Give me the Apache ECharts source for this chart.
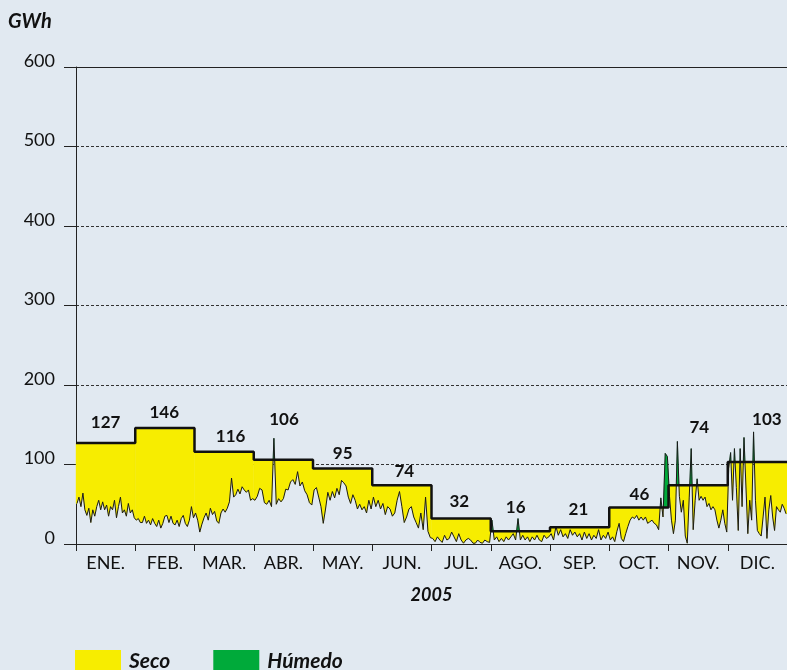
<!DOCTYPE html>
<html>
<head>
<meta charset="utf-8">
<script src="https://cdn.jsdelivr.net/npm/echarts@6/dist/echarts.min.js"></script>
<style>
  html, body { margin: 0; padding: 0; background: #E1E9F1; }
  #chart { width: 787px; height: 670px; }
</style>
</head>
<body>
<div id="chart"></div>
<script>
  // meses y medias mensuales (GWh)
  const months = ['ENE.', 'FEB.', 'MAR.', 'ABR.', 'MAY.', 'JUN.', 'JUL.', 'AGO.', 'SEP.', 'OCT.', 'NOV.', 'DIC.'];
  const monthAvg = [127, 146, 116, 106, 95, 74, 32, 16, 21, 46, 74, 103];

  // valores diarios
  const dayEne = [51, 59, 47, 64, 43, 36, 45, 27, 43, 35, 47, 55, 43, 53, 43, 49, 35, 47, 43, 55, 33, 47, 59, 39, 43, 35, 51, 39, 43, 33];
  const dayFeb = [30, 32, 27, 27, 35, 26, 30, 24, 32, 26, 22, 30, 20, 26, 35, 36, 27, 35, 26, 24, 30, 22, 32, 36, 26, 22, 30, 47, 33];
  const dayMar = [39, 30, 15, 25, 33, 39, 30, 45, 37, 41, 29, 26, 39, 44, 40, 45, 53, 83, 59, 62, 69, 63, 72, 68, 65, 68, 55, 57];
  const dayAbr = [55, 60, 70, 68, 52, 50, 55, 47, 133, 50, 57, 53, 57, 69, 68, 78, 81, 75, 91, 73, 78, 67, 62, 52, 49];
  const dayMay = [68, 71, 59, 47, 26, 44, 65, 55, 66, 58, 70, 62, 80, 77, 73, 59, 51, 62, 55, 44, 50, 43, 47, 39, 55, 44];
  const dayJun = [59, 47, 55, 44, 51, 37, 47, 44, 35, 39, 55, 66, 47, 27, 34, 44, 47, 34, 27, 20, 39, 18, 59, 16, 8];
  const dayJul = [7, 3, 9, 5, 2, 11, 5, 7, 15, 9, 3, 13, 5, 1, 5, 7, 5, 1, 1, 5, 2, 1, 5, 3, 2];
  const dayAgo = [30, 5, 9, 3, 7, 3, 9, 5, 9, 13, 5, 32, 5, 11, 5, 9, 3, 9, 5, 11, 5, 3, 11, 7, 9];
  const daySep = [13, 5, 22, 11, 18, 9, 13, 7, 18, 11, 15, 9, 13, 5, 15, 7, 13, 5, 11, 7, 18, 5, 11, 7, 15];
  const dayOct = [5, 9, 3, 16, 26, 7, 3, 13, 22, 30, 34, 32, 36, 30, 34, 30, 34, 26, 28, 30, 26, 24, 18, 58, 34, 114, 110];
  const dayNov = [60, 30, 13, 30, 129, 60, 40, 55, 10, 1, 59, 120, 18, 55, 82, 55, 60, 55, 59, 47, 51, 43, 47, 43, 30, 20, 30, 43, 26, 15];
  const dayDic = [95, 115, 55, 120, 71, 17, 120, 47, 134, 73, 13, 55, 30, 141, 55, 17, 13, 10, 34, 59, 7, 43, 61, 34, 17, 47, 43, 40, 50, 45, 38];
  const daily = [dayEne, dayFeb, dayMar, dayAbr, dayMay, dayJun, dayJul, dayAgo, daySep, dayOct, dayNov, dayDic];

  // donde va cada rótulo de media (x en meses, y en GWh)
  const labelSpot = [[0.50, 153], [1.49, 166], [2.61, 135], [3.51, 156], [4.50, 114], [5.54, 91],
                     [6.47, 54], [7.42, 46], [8.48, 43], [9.51, 62], [10.52, 146], [11.66, 156]];

  const YELLOW = '#F7ED00';
  const GREEN = '#00AA3A';
  const FONT = 'Lato';

  // puntos diarios con x en unidades de mes
  const dayX = (m, i) => m + (i + 0.5) / daily[m].length;
  const line = [];
  daily.forEach((days, m) => days.forEach((v, i) => line.push([dayX(m, i), v])));

  // puntos de cada mes, con los bordes del mes interpolados
  const monthPoints = daily.map((days, m) => {
    const pts = days.map((v, i) => [dayX(m, i), v]);
    const first = pts[0], last = pts[pts.length - 1];
    let startV = first[1], endV = last[1];
    if (m > 0) {
      const prev = daily[m - 1];
      const px = dayX(m - 1, prev.length - 1), pv = prev[prev.length - 1];
      startV = pv + (first[1] - pv) * (m - px) / (first[0] - px);
    }
    if (m < 11) {
      const nx = dayX(m + 1, 0), nv = daily[m + 1][0];
      endV = last[1] + (nv - last[1]) * (m + 1 - last[0]) / (nx - last[0]);
    }
    return [[m, startV]].concat(pts, [[m + 1, endV]]);
  });

  const step = [];
  monthAvg.forEach((v, m) => { step.push([m, v]); step.push([m + 1, v]); });

  // relleno entre la curva diaria y la media: sign -1 seco, +1 húmedo
  function fillRender(sign, color) {
    return function (params, api) {
      const m = api.value(2);
      const avg = monthAvg[m];
      const pts = monthPoints[m];
      const polys = [];
      let run = null;
      for (let i = 0; i < pts.length; i++) {
        const x = pts[i][0], d = pts[i][1];
        const s = d > avg ? 1 : -1;
        if (i > 0) {
          const px = pts[i - 1][0], pd = pts[i - 1][1];
          const ps = pd > avg ? 1 : -1;
          if (s !== ps) {
            const xc = px + (avg - pd) / (d - pd) * (x - px);
            if (run) { run.push([xc, avg]); polys.push(run); run = null; }
            if (s === sign) run = [[xc, avg]];
          }
        }
        if (s === sign) {
          if (!run) run = [[x, avg]];
          run.push([x, d]);
        }
      }
      if (run) { run.push([run[run.length - 1][0], avg]); polys.push(run); }
      return {
        type: 'group',
        children: polys.map(poly => ({
          type: 'polygon',
          shape: { points: poly.map(p => api.coord(p)) },
          style: { fill: color, stroke: color, lineWidth: 0.4 }
        }))
      };
    };
  }

  const monthItems = months.map((_, m) => [m + 0.5, monthAvg[m], m]);

  const chart = echarts.init(document.getElementById('chart'));

  const option = {
    backgroundColor: '#E1E9F1',
    animation: false,
    textStyle: { fontFamily: FONT },
    title: {
      text: 'GWh',
      left: 8,
      top: 12,
      padding: 0,
      textStyle: { fontFamily: FONT, fontSize: 20, fontWeight: 'bold', fontStyle: 'italic', color: '#111' }
    },
    legend: {
      data: ['Seco', 'Húmedo'],
      left: 75,
      top: 650,
      padding: 0,
      icon: 'rect',
      itemWidth: 46,
      itemHeight: 22,
      itemGap: 43,
      selectedMode: false,
      textStyle: { fontFamily: FONT, fontSize: 21, fontWeight: 'bold', fontStyle: 'italic', color: '#111', padding: [0, 0, 0, 3] }
    },
    grid: { left: 76, top: 67, width: 718, height: 477 },
    xAxis: [
      {
        type: 'value',
        min: 0,
        max: 12,
        interval: 1,
        position: 'bottom',
        axisLine: { lineStyle: { color: '#222', width: 1 } },
        axisTick: { length: 7, lineStyle: { color: '#222' } },
        axisLabel: { show: false },
        splitLine: { show: false }
      },
      {
        type: 'category',
        data: months,
        position: 'bottom',
        axisLine: { show: false },
        axisTick: { show: false },
        axisLabel: { margin: 10, fontFamily: FONT, fontSize: 18, color: '#111' },
        name: '2005',
        nameLocation: 'middle',
        nameGap: 42,
        nameTextStyle: { fontFamily: FONT, fontSize: 18, fontWeight: 'bold', fontStyle: 'italic', color: '#111' }
      },
      {
        type: 'value',
        min: 0,
        max: 12,
        position: 'top',
        axisLine: { lineStyle: { color: '#222', width: 1 } },
        axisTick: { show: false },
        axisLabel: { show: false },
        splitLine: { show: false }
      }
    ],
    yAxis: {
      type: 'value',
      min: 0,
      max: 600,
      interval: 100,
      axisLine: { show: true, lineStyle: { color: '#222', width: 1 } },
      axisTick: { show: true, length: 12, lineStyle: { color: '#222' } },
      axisLabel: { margin: 21, fontFamily: FONT, fontSize: 18, color: '#111', verticalAlign: 'bottom', lineHeight: 12 },
      splitLine: { lineStyle: { color: '#333', type: [3, 2], width: 1 } }
    },
    series: [
      {
        name: 'Seco',
        type: 'custom',
        data: monthItems,
        encode: { x: 0, y: 1 },
        silent: true,
        itemStyle: { color: YELLOW },
        renderItem: fillRender(-1, YELLOW)
      },
      {
        name: 'Húmedo',
        type: 'custom',
        data: monthItems,
        encode: { x: 0, y: 1 },
        silent: true,
        itemStyle: { color: GREEN },
        renderItem: fillRender(1, GREEN)
      },
      {
        name: 'diario',
        type: 'line',
        data: line,
        showSymbol: false,
        silent: true,
        lineStyle: { color: '#1a1a1a', width: 1 }
      },
      {
        name: 'media',
        type: 'line',
        data: step,
        showSymbol: false,
        silent: true,
        lineStyle: { color: '#111', width: 2.5 }
      },
      {
        name: 'rotulos',
        type: 'scatter',
        symbolSize: 0,
        silent: true,
        itemStyle: { opacity: 1 },
        data: labelSpot.map((p, i) => [p[0], p[1], monthAvg[i]]),
        label: {
          show: true,
          position: 'inside',
          formatter: p => p.value[2],
          fontFamily: FONT,
          fontSize: 17,
          fontWeight: 'bold',
          color: '#111'
        }
      }
    ]
  };

  chart.setOption(option);
</script>
</body>
</html>
